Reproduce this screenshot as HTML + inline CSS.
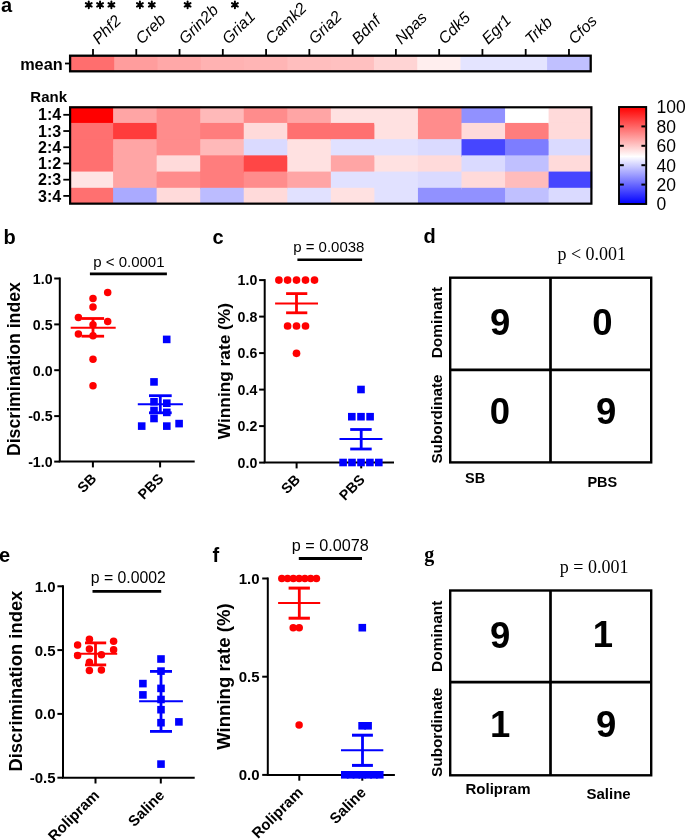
<!DOCTYPE html>
<html><head><meta charset="utf-8"><style>
html,body{margin:0;padding:0;background:#fff;width:685px;height:840px;overflow:hidden}
svg{display:block;will-change:transform}
text{font-family:"Liberation Sans", sans-serif;fill:#000}
text.serif{font-family:"Liberation Serif", serif}
</style></head><body>
<svg width="685" height="840" viewBox="0 0 685 840">
<rect x="70.90" y="55.7" width="44.79" height="15.60" fill="rgb(255,110,110)"/>
<rect x="114.19" y="55.7" width="44.79" height="15.60" fill="rgb(255,157,157)"/>
<rect x="157.48" y="55.7" width="44.79" height="15.60" fill="rgb(255,168,168)"/>
<rect x="200.77" y="55.7" width="44.79" height="15.60" fill="rgb(255,178,178)"/>
<rect x="244.06" y="55.7" width="44.79" height="15.60" fill="rgb(255,181,181)"/>
<rect x="287.35" y="55.7" width="44.79" height="15.60" fill="rgb(255,190,190)"/>
<rect x="330.64" y="55.7" width="44.79" height="15.60" fill="rgb(255,192,192)"/>
<rect x="373.93" y="55.7" width="44.79" height="15.60" fill="rgb(255,212,212)"/>
<rect x="417.22" y="55.7" width="44.79" height="15.60" fill="rgb(255,238,238)"/>
<rect x="460.51" y="55.7" width="44.79" height="15.60" fill="rgb(228,228,255)"/>
<rect x="503.80" y="55.7" width="44.79" height="15.60" fill="rgb(228,228,255)"/>
<rect x="547.09" y="55.7" width="43.29" height="15.60" fill="rgb(192,192,255)"/>
<rect x="70.1" y="55.7" width="520.60" height="15.60" fill="none" stroke="#000" stroke-width="2.3"/>
<line x1="93.00" y1="49" x2="93.00" y2="55" stroke="#000" stroke-width="1.8"/>
<line x1="136.27" y1="49" x2="136.27" y2="55" stroke="#000" stroke-width="1.8"/>
<line x1="179.54" y1="49" x2="179.54" y2="55" stroke="#000" stroke-width="1.8"/>
<line x1="222.81" y1="49" x2="222.81" y2="55" stroke="#000" stroke-width="1.8"/>
<line x1="266.08" y1="49" x2="266.08" y2="55" stroke="#000" stroke-width="1.8"/>
<line x1="309.35" y1="49" x2="309.35" y2="55" stroke="#000" stroke-width="1.8"/>
<line x1="352.62" y1="49" x2="352.62" y2="55" stroke="#000" stroke-width="1.8"/>
<line x1="395.89" y1="49" x2="395.89" y2="55" stroke="#000" stroke-width="1.8"/>
<line x1="439.16" y1="49" x2="439.16" y2="55" stroke="#000" stroke-width="1.8"/>
<line x1="482.43" y1="49" x2="482.43" y2="55" stroke="#000" stroke-width="1.8"/>
<line x1="525.70" y1="49" x2="525.70" y2="55" stroke="#000" stroke-width="1.8"/>
<line x1="568.97" y1="49" x2="568.97" y2="55" stroke="#000" stroke-width="1.8"/>
<line x1="65" y1="63.5" x2="70" y2="63.5" stroke="#000" stroke-width="1.8"/>
<rect x="69.55" y="106.70" width="45.05" height="17.72" fill="rgb(255,0,0)"/>
<rect x="69.55" y="122.92" width="45.05" height="17.72" fill="rgb(255,112,112)"/>
<rect x="69.55" y="139.14" width="45.05" height="17.72" fill="rgb(255,112,112)"/>
<rect x="69.55" y="155.36" width="45.05" height="17.72" fill="rgb(255,112,112)"/>
<rect x="69.55" y="171.58" width="45.05" height="17.72" fill="rgb(255,228,228)"/>
<rect x="69.55" y="187.80" width="45.05" height="16.22" fill="rgb(255,112,112)"/>
<rect x="113.10" y="106.70" width="45.05" height="17.72" fill="rgb(255,165,165)"/>
<rect x="113.10" y="122.92" width="45.05" height="17.72" fill="rgb(255,60,60)"/>
<rect x="113.10" y="139.14" width="45.05" height="17.72" fill="rgb(255,165,165)"/>
<rect x="113.10" y="155.36" width="45.05" height="17.72" fill="rgb(255,165,165)"/>
<rect x="113.10" y="171.58" width="45.05" height="17.72" fill="rgb(255,165,165)"/>
<rect x="113.10" y="187.80" width="45.05" height="16.22" fill="rgb(170,170,255)"/>
<rect x="156.65" y="106.70" width="45.05" height="17.72" fill="rgb(255,140,140)"/>
<rect x="156.65" y="122.92" width="45.05" height="17.72" fill="rgb(255,140,140)"/>
<rect x="156.65" y="139.14" width="45.05" height="17.72" fill="rgb(255,140,140)"/>
<rect x="156.65" y="155.36" width="45.05" height="17.72" fill="rgb(255,218,218)"/>
<rect x="156.65" y="171.58" width="45.05" height="17.72" fill="rgb(255,140,140)"/>
<rect x="156.65" y="187.80" width="45.05" height="16.22" fill="rgb(255,218,218)"/>
<rect x="200.20" y="106.70" width="45.05" height="17.72" fill="rgb(255,185,185)"/>
<rect x="200.20" y="122.92" width="45.05" height="17.72" fill="rgb(255,125,125)"/>
<rect x="200.20" y="139.14" width="45.05" height="17.72" fill="rgb(255,185,185)"/>
<rect x="200.20" y="155.36" width="45.05" height="17.72" fill="rgb(255,125,125)"/>
<rect x="200.20" y="171.58" width="45.05" height="17.72" fill="rgb(255,125,125)"/>
<rect x="200.20" y="187.80" width="45.05" height="16.22" fill="rgb(188,188,255)"/>
<rect x="243.75" y="106.70" width="45.05" height="17.72" fill="rgb(255,140,140)"/>
<rect x="243.75" y="122.92" width="45.05" height="17.72" fill="rgb(255,218,218)"/>
<rect x="243.75" y="139.14" width="45.05" height="17.72" fill="rgb(218,218,255)"/>
<rect x="243.75" y="155.36" width="45.05" height="17.72" fill="rgb(255,70,70)"/>
<rect x="243.75" y="171.58" width="45.05" height="17.72" fill="rgb(255,140,140)"/>
<rect x="243.75" y="187.80" width="45.05" height="16.22" fill="rgb(255,218,218)"/>
<rect x="287.30" y="106.70" width="45.05" height="17.72" fill="rgb(255,165,165)"/>
<rect x="287.30" y="122.92" width="45.05" height="17.72" fill="rgb(255,112,112)"/>
<rect x="287.30" y="139.14" width="45.05" height="17.72" fill="rgb(255,225,225)"/>
<rect x="287.30" y="155.36" width="45.05" height="17.72" fill="rgb(255,225,225)"/>
<rect x="287.30" y="171.58" width="45.05" height="17.72" fill="rgb(255,165,165)"/>
<rect x="287.30" y="187.80" width="45.05" height="16.22" fill="rgb(225,225,255)"/>
<rect x="330.85" y="106.70" width="45.05" height="17.72" fill="rgb(255,225,225)"/>
<rect x="330.85" y="122.92" width="45.05" height="17.72" fill="rgb(255,112,112)"/>
<rect x="330.85" y="139.14" width="45.05" height="17.72" fill="rgb(225,225,255)"/>
<rect x="330.85" y="155.36" width="45.05" height="17.72" fill="rgb(255,165,165)"/>
<rect x="330.85" y="171.58" width="45.05" height="17.72" fill="rgb(225,225,255)"/>
<rect x="330.85" y="187.80" width="45.05" height="16.22" fill="rgb(255,225,225)"/>
<rect x="374.40" y="106.70" width="45.05" height="17.72" fill="rgb(255,225,225)"/>
<rect x="374.40" y="122.92" width="45.05" height="17.72" fill="rgb(255,225,225)"/>
<rect x="374.40" y="139.14" width="45.05" height="17.72" fill="rgb(225,225,255)"/>
<rect x="374.40" y="155.36" width="45.05" height="17.72" fill="rgb(255,225,225)"/>
<rect x="374.40" y="171.58" width="45.05" height="17.72" fill="rgb(225,225,255)"/>
<rect x="374.40" y="187.80" width="45.05" height="16.22" fill="rgb(225,225,255)"/>
<rect x="417.95" y="106.70" width="45.05" height="17.72" fill="rgb(255,140,140)"/>
<rect x="417.95" y="122.92" width="45.05" height="17.72" fill="rgb(255,140,140)"/>
<rect x="417.95" y="139.14" width="45.05" height="17.72" fill="rgb(218,218,255)"/>
<rect x="417.95" y="155.36" width="45.05" height="17.72" fill="rgb(255,218,218)"/>
<rect x="417.95" y="171.58" width="45.05" height="17.72" fill="rgb(218,218,255)"/>
<rect x="417.95" y="187.80" width="45.05" height="16.22" fill="rgb(145,145,255)"/>
<rect x="461.50" y="106.70" width="45.05" height="17.72" fill="rgb(145,145,255)"/>
<rect x="461.50" y="122.92" width="45.05" height="17.72" fill="rgb(255,218,218)"/>
<rect x="461.50" y="139.14" width="45.05" height="17.72" fill="rgb(70,70,255)"/>
<rect x="461.50" y="155.36" width="45.05" height="17.72" fill="rgb(218,218,255)"/>
<rect x="461.50" y="171.58" width="45.05" height="17.72" fill="rgb(255,218,218)"/>
<rect x="461.50" y="187.80" width="45.05" height="16.22" fill="rgb(145,145,255)"/>
<rect x="505.05" y="106.70" width="45.05" height="17.72" fill="rgb(255,255,255)"/>
<rect x="505.05" y="122.92" width="45.05" height="17.72" fill="rgb(255,125,125)"/>
<rect x="505.05" y="139.14" width="45.05" height="17.72" fill="rgb(125,125,255)"/>
<rect x="505.05" y="155.36" width="45.05" height="17.72" fill="rgb(192,192,255)"/>
<rect x="505.05" y="171.58" width="45.05" height="17.72" fill="rgb(255,188,188)"/>
<rect x="505.05" y="187.80" width="45.05" height="16.22" fill="rgb(192,192,255)"/>
<rect x="548.60" y="106.70" width="43.55" height="17.72" fill="rgb(255,218,218)"/>
<rect x="548.60" y="122.92" width="43.55" height="17.72" fill="rgb(255,218,218)"/>
<rect x="548.60" y="139.14" width="43.55" height="17.72" fill="rgb(218,218,255)"/>
<rect x="548.60" y="155.36" width="43.55" height="17.72" fill="rgb(255,218,218)"/>
<rect x="548.60" y="171.58" width="43.55" height="17.72" fill="rgb(70,70,255)"/>
<rect x="548.60" y="187.80" width="43.55" height="16.22" fill="rgb(218,218,255)"/>
<rect x="70.1" y="107.3" width="521.30" height="96.35" fill="none" stroke="#000" stroke-width="2.2"/>
<line x1="63.3" y1="114.81" x2="70" y2="114.81" stroke="#000" stroke-width="1.8"/>
<text x="61.2" y="120.41" text-anchor="end" font-weight="bold" font-size="16">1:4</text>
<line x1="63.3" y1="131.03" x2="70" y2="131.03" stroke="#000" stroke-width="1.8"/>
<text x="61.2" y="136.63" text-anchor="end" font-weight="bold" font-size="16">1:3</text>
<line x1="63.3" y1="147.25" x2="70" y2="147.25" stroke="#000" stroke-width="1.8"/>
<text x="61.2" y="152.85" text-anchor="end" font-weight="bold" font-size="16">2:4</text>
<line x1="63.3" y1="163.47" x2="70" y2="163.47" stroke="#000" stroke-width="1.8"/>
<text x="61.2" y="169.07" text-anchor="end" font-weight="bold" font-size="16">1:2</text>
<line x1="63.3" y1="179.69" x2="70" y2="179.69" stroke="#000" stroke-width="1.8"/>
<text x="61.2" y="185.29" text-anchor="end" font-weight="bold" font-size="16">2:3</text>
<line x1="63.3" y1="195.91" x2="70" y2="195.91" stroke="#000" stroke-width="1.8"/>
<text x="61.2" y="201.51" text-anchor="end" font-weight="bold" font-size="16">3:4</text>
<text x="62.7" y="69.5" text-anchor="end" font-weight="bold" font-size="16.3">mean</text>
<text x="67" y="102.4" text-anchor="end" font-weight="bold" font-size="15">Rank</text>
<text x="1" y="12" font-weight="bold" font-size="20">a</text>
<text transform="translate(98.70,45.0) rotate(-45)" font-style="italic" font-size="16">Phf2</text>
<text transform="translate(141.97,45.0) rotate(-45)" font-style="italic" font-size="16">Creb</text>
<text transform="translate(185.24,45.0) rotate(-45)" font-style="italic" font-size="16">Grin2b</text>
<text transform="translate(228.51,45.0) rotate(-45)" font-style="italic" font-size="16">Gria1</text>
<text transform="translate(271.78,45.0) rotate(-45)" font-style="italic" font-size="16">Camk2</text>
<text transform="translate(315.05,45.0) rotate(-45)" font-style="italic" font-size="16">Gria2</text>
<text transform="translate(358.32,45.0) rotate(-45)" font-style="italic" font-size="16">Bdnf</text>
<text transform="translate(401.59,45.0) rotate(-45)" font-style="italic" font-size="16">Npas</text>
<text transform="translate(444.86,45.0) rotate(-45)" font-style="italic" font-size="16">Cdk5</text>
<text transform="translate(488.13,45.0) rotate(-45)" font-style="italic" font-size="16">Egr1</text>
<text transform="translate(531.40,45.0) rotate(-45)" font-style="italic" font-size="16">Trkb</text>
<text transform="translate(574.67,45.0) rotate(-45)" font-style="italic" font-size="16">Cfos</text>
<path d="M88.75,1.45L88.75,8.25M85.81,3.15L91.69,6.55M91.69,3.15L85.81,6.55" stroke="#000" stroke-width="2.0" stroke-linecap="round"/>
<path d="M100.05,1.45L100.05,8.25M97.11,3.15L102.99,6.55M102.99,3.15L97.11,6.55" stroke="#000" stroke-width="2.0" stroke-linecap="round"/>
<path d="M111.40,1.45L111.40,8.25M108.46,3.15L114.34,6.55M114.34,3.15L108.46,6.55" stroke="#000" stroke-width="2.0" stroke-linecap="round"/>
<path d="M139.90,1.45L139.90,8.25M136.96,3.15L142.84,6.55M142.84,3.15L136.96,6.55" stroke="#000" stroke-width="2.0" stroke-linecap="round"/>
<path d="M151.80,1.45L151.80,8.25M148.86,3.15L154.74,6.55M154.74,3.15L148.86,6.55" stroke="#000" stroke-width="2.0" stroke-linecap="round"/>
<path d="M187.60,1.45L187.60,8.25M184.66,3.15L190.54,6.55M190.54,3.15L184.66,6.55" stroke="#000" stroke-width="2.0" stroke-linecap="round"/>
<path d="M234.90,1.45L234.90,8.25M231.96,3.15L237.84,6.55M237.84,3.15L231.96,6.55" stroke="#000" stroke-width="2.0" stroke-linecap="round"/>
<defs><linearGradient id="cb" x1="0" y1="1" x2="0" y2="0"><stop offset="0" stop-color="#0000ff"/><stop offset="0.49" stop-color="#ffffff"/><stop offset="1" stop-color="#ff0000"/></linearGradient></defs>
<rect x="619" y="107" width="27.2" height="97" fill="url(#cb)" stroke="#000" stroke-width="1.9"/>
<line x1="620" y1="126.40" x2="623.8" y2="126.40" stroke="#000" stroke-width="2"/>
<line x1="641.4" y1="126.40" x2="645.4" y2="126.40" stroke="#000" stroke-width="2"/>
<line x1="620" y1="145.80" x2="623.8" y2="145.80" stroke="#000" stroke-width="2"/>
<line x1="641.4" y1="145.80" x2="645.4" y2="145.80" stroke="#000" stroke-width="2"/>
<line x1="620" y1="165.20" x2="623.8" y2="165.20" stroke="#000" stroke-width="2"/>
<line x1="641.4" y1="165.20" x2="645.4" y2="165.20" stroke="#000" stroke-width="2"/>
<line x1="620" y1="184.60" x2="623.8" y2="184.60" stroke="#000" stroke-width="2"/>
<line x1="641.4" y1="184.60" x2="645.4" y2="184.60" stroke="#000" stroke-width="2"/>
<text x="656.5" y="113.30" font-size="17.5">100</text>
<text x="656.5" y="132.70" font-size="17.5">80</text>
<text x="656.5" y="152.10" font-size="17.5">60</text>
<text x="656.5" y="171.50" font-size="17.5">40</text>
<text x="656.5" y="190.90" font-size="17.5">20</text>
<text x="656.5" y="210.30" font-size="17.5">0</text>
<text x="3.5" y="244" font-weight="bold" font-size="20">b</text>
<line x1="59.8" y1="277.5" x2="59.8" y2="461.6" stroke="#000" stroke-width="2"/>
<line x1="58.8" y1="461.6" x2="194.7" y2="461.6" stroke="#000" stroke-width="2"/>
<line x1="54.199999999999996" y1="278.5" x2="59.8" y2="278.5" stroke="#000" stroke-width="2"/>
<text x="52.599999999999994" y="283.80" text-anchor="end" font-weight="bold" font-size="14.2">1.0</text>
<line x1="54.199999999999996" y1="324.4" x2="59.8" y2="324.4" stroke="#000" stroke-width="2"/>
<text x="52.599999999999994" y="329.70" text-anchor="end" font-weight="bold" font-size="14.2">0.5</text>
<line x1="54.199999999999996" y1="370.2" x2="59.8" y2="370.2" stroke="#000" stroke-width="2"/>
<text x="52.599999999999994" y="375.50" text-anchor="end" font-weight="bold" font-size="14.2">0.0</text>
<line x1="54.199999999999996" y1="416.1" x2="59.8" y2="416.1" stroke="#000" stroke-width="2"/>
<text x="52.599999999999994" y="421.40" text-anchor="end" font-weight="bold" font-size="14.2">-0.5</text>
<line x1="54.199999999999996" y1="461.6" x2="59.8" y2="461.6" stroke="#000" stroke-width="2"/>
<text x="52.599999999999994" y="466.90" text-anchor="end" font-weight="bold" font-size="14.2">-1.0</text>
<line x1="92.9" y1="461.6" x2="92.9" y2="467.40000000000003" stroke="#000" stroke-width="2"/>
<text transform="translate(97.30000000000001,479.6) rotate(-45)" text-anchor="end" font-weight="bold" font-size="14.2">SB</text>
<line x1="160.1" y1="461.6" x2="160.1" y2="467.40000000000003" stroke="#000" stroke-width="2"/>
<text transform="translate(164.5,479.6) rotate(-45)" text-anchor="end" font-weight="bold" font-size="14.2">PBS</text>
<text transform="translate(19.9,369.1) rotate(-90)" text-anchor="middle" font-weight="bold" font-size="17.7">Discrimination index</text>
<line x1="89.9" y1="273.9" x2="166.9" y2="273.9" stroke="#000" stroke-width="2.6"/>
<text x="128.9" y="266.9" text-anchor="middle" font-size="15">p &lt; 0.0001</text>
<circle cx="107.7" cy="292.6" r="3.75" fill="#ff0000"/>
<circle cx="93.0" cy="298.4" r="3.75" fill="#ff0000"/>
<circle cx="93.0" cy="307.1" r="3.75" fill="#ff0000"/>
<circle cx="78.4" cy="317.5" r="3.75" fill="#ff0000"/>
<circle cx="107.7" cy="321.4" r="3.75" fill="#ff0000"/>
<circle cx="93.0" cy="324.7" r="3.75" fill="#ff0000"/>
<circle cx="78.4" cy="334" r="3.75" fill="#ff0000"/>
<circle cx="93.0" cy="335.7" r="3.75" fill="#ff0000"/>
<circle cx="93.0" cy="359.2" r="3.75" fill="#ff0000"/>
<circle cx="93.0" cy="385.8" r="3.75" fill="#ff0000"/>
<line x1="70.7" y1="327.7" x2="115.7" y2="327.7" stroke="#ff0000" stroke-width="2"/>
<line x1="81.5" y1="318.5" x2="104.1" y2="318.5" stroke="#ff0000" stroke-width="2.8"/>
<line x1="81.5" y1="336.2" x2="104.1" y2="336.2" stroke="#ff0000" stroke-width="2.8"/>
<line x1="93.0" y1="318.5" x2="93.0" y2="336.2" stroke="#ff0000" stroke-width="2.8"/>
<rect x="162.90" y="335.60" width="7.6" height="7.6" fill="#0000ff"/>
<rect x="150.20" y="378.10" width="7.6" height="7.6" fill="#0000ff"/>
<rect x="150.20" y="398.00" width="7.6" height="7.6" fill="#0000ff"/>
<rect x="163.00" y="399.40" width="7.6" height="7.6" fill="#0000ff"/>
<rect x="150.20" y="406.70" width="7.6" height="7.6" fill="#0000ff"/>
<rect x="163.00" y="408.60" width="7.6" height="7.6" fill="#0000ff"/>
<rect x="150.20" y="414.70" width="7.6" height="7.6" fill="#0000ff"/>
<rect x="137.90" y="422.30" width="7.6" height="7.6" fill="#0000ff"/>
<rect x="163.00" y="422.30" width="7.6" height="7.6" fill="#0000ff"/>
<rect x="175.30" y="419.80" width="7.6" height="7.6" fill="#0000ff"/>
<line x1="137.8" y1="404.2" x2="182.9" y2="404.2" stroke="#0000ff" stroke-width="2"/>
<line x1="149" y1="395.7" x2="171.7" y2="395.7" stroke="#0000ff" stroke-width="2.8"/>
<line x1="149" y1="412.8" x2="171.7" y2="412.8" stroke="#0000ff" stroke-width="2.8"/>
<line x1="160.3" y1="395.7" x2="160.3" y2="412.8" stroke="#0000ff" stroke-width="2.8"/>
<text x="212.5" y="243.7" font-weight="bold" font-size="20">c</text>
<line x1="264.7" y1="279.1" x2="264.7" y2="462.6" stroke="#000" stroke-width="2"/>
<line x1="263.7" y1="462.6" x2="394" y2="462.6" stroke="#000" stroke-width="2"/>
<line x1="259.09999999999997" y1="280.1" x2="264.7" y2="280.1" stroke="#000" stroke-width="2"/>
<text x="257.3" y="285.40" text-anchor="end" font-weight="bold" font-size="14.2">1.0</text>
<line x1="259.09999999999997" y1="316.6" x2="264.7" y2="316.6" stroke="#000" stroke-width="2"/>
<text x="257.3" y="321.90" text-anchor="end" font-weight="bold" font-size="14.2">0.8</text>
<line x1="259.09999999999997" y1="353.1" x2="264.7" y2="353.1" stroke="#000" stroke-width="2"/>
<text x="257.3" y="358.40" text-anchor="end" font-weight="bold" font-size="14.2">0.6</text>
<line x1="259.09999999999997" y1="389.6" x2="264.7" y2="389.6" stroke="#000" stroke-width="2"/>
<text x="257.3" y="394.90" text-anchor="end" font-weight="bold" font-size="14.2">0.4</text>
<line x1="259.09999999999997" y1="426.1" x2="264.7" y2="426.1" stroke="#000" stroke-width="2"/>
<text x="257.3" y="431.40" text-anchor="end" font-weight="bold" font-size="14.2">0.2</text>
<line x1="259.09999999999997" y1="462.6" x2="264.7" y2="462.6" stroke="#000" stroke-width="2"/>
<text x="257.3" y="467.90" text-anchor="end" font-weight="bold" font-size="14.2">0.0</text>
<line x1="296.6" y1="462.6" x2="296.6" y2="468.40000000000003" stroke="#000" stroke-width="2"/>
<text transform="translate(301.0,480.6) rotate(-45)" text-anchor="end" font-weight="bold" font-size="14.2">SB</text>
<line x1="361.2" y1="462.6" x2="361.2" y2="468.40000000000003" stroke="#000" stroke-width="2"/>
<text transform="translate(365.59999999999997,480.6) rotate(-45)" text-anchor="end" font-weight="bold" font-size="14.2">PBS</text>
<text transform="translate(229.7,371.1) rotate(-90)" text-anchor="middle" font-weight="bold" font-size="17.3">Winning rate (%)</text>
<line x1="297.4" y1="259.7" x2="362.1" y2="259.7" stroke="#000" stroke-width="2.6"/>
<text x="328.8" y="252.4" text-anchor="middle" font-size="15">p = 0.0038</text>
<circle cx="278.9" cy="280.1" r="3.85" fill="#ff0000"/>
<circle cx="287.6" cy="280.1" r="3.85" fill="#ff0000"/>
<circle cx="296.5" cy="280.1" r="3.85" fill="#ff0000"/>
<circle cx="305.5" cy="280.1" r="3.85" fill="#ff0000"/>
<circle cx="314.5" cy="280.1" r="3.85" fill="#ff0000"/>
<circle cx="287.6" cy="326" r="3.85" fill="#ff0000"/>
<circle cx="296.5" cy="326" r="3.85" fill="#ff0000"/>
<circle cx="305.5" cy="326" r="3.85" fill="#ff0000"/>
<circle cx="296.5" cy="353.3" r="3.85" fill="#ff0000"/>
<line x1="275.1" y1="303.5" x2="318" y2="303.5" stroke="#ff0000" stroke-width="2"/>
<line x1="286.1" y1="293.6" x2="307.3" y2="293.6" stroke="#ff0000" stroke-width="2.8"/>
<line x1="286.1" y1="312.8" x2="307.3" y2="312.8" stroke="#ff0000" stroke-width="2.8"/>
<line x1="296.5" y1="293.6" x2="296.5" y2="312.8" stroke="#ff0000" stroke-width="2.8"/>
<rect x="357.20" y="385.70" width="7.6" height="7.6" fill="#0000ff"/>
<rect x="348.00" y="412.90" width="7.6" height="7.6" fill="#0000ff"/>
<rect x="357.20" y="412.90" width="7.6" height="7.6" fill="#0000ff"/>
<rect x="366.30" y="412.90" width="7.6" height="7.6" fill="#0000ff"/>
<rect x="339.30" y="458.70" width="7.6" height="7.6" fill="#0000ff"/>
<rect x="348.20" y="458.70" width="7.6" height="7.6" fill="#0000ff"/>
<rect x="357.20" y="458.70" width="7.6" height="7.6" fill="#0000ff"/>
<rect x="366.10" y="458.70" width="7.6" height="7.6" fill="#0000ff"/>
<rect x="375.00" y="458.70" width="7.6" height="7.6" fill="#0000ff"/>
<line x1="339.5" y1="439" x2="382.4" y2="439" stroke="#0000ff" stroke-width="2"/>
<line x1="350.2" y1="429.5" x2="371.7" y2="429.5" stroke="#0000ff" stroke-width="2.8"/>
<line x1="350.2" y1="449" x2="371.7" y2="449" stroke="#0000ff" stroke-width="2.8"/>
<line x1="361.2" y1="429.5" x2="361.2" y2="449" stroke="#0000ff" stroke-width="2.8"/>
<text x="-1" y="561.9" font-weight="bold" font-size="20">e</text>
<line x1="63.0" y1="585.3" x2="63.0" y2="777.7" stroke="#000" stroke-width="2"/>
<line x1="62.0" y1="777.7" x2="194.7" y2="777.7" stroke="#000" stroke-width="2"/>
<line x1="57.4" y1="586.3" x2="63.0" y2="586.3" stroke="#000" stroke-width="2"/>
<text x="55.6" y="591.87" text-anchor="end" font-weight="bold" font-size="15">1.0</text>
<line x1="57.4" y1="650.1" x2="63.0" y2="650.1" stroke="#000" stroke-width="2"/>
<text x="55.6" y="655.67" text-anchor="end" font-weight="bold" font-size="15">0.5</text>
<line x1="57.4" y1="713.9" x2="63.0" y2="713.9" stroke="#000" stroke-width="2"/>
<text x="55.6" y="719.47" text-anchor="end" font-weight="bold" font-size="15">0.0</text>
<line x1="57.4" y1="777.7" x2="63.0" y2="777.7" stroke="#000" stroke-width="2"/>
<text x="55.6" y="783.27" text-anchor="end" font-weight="bold" font-size="15">-0.5</text>
<line x1="95.5" y1="777.7" x2="95.5" y2="783.5" stroke="#000" stroke-width="2"/>
<text transform="translate(100.1,796.2) rotate(-45)" text-anchor="end" font-weight="bold" font-size="15">Rolipram</text>
<line x1="160.8" y1="777.7" x2="160.8" y2="783.5" stroke="#000" stroke-width="2"/>
<text transform="translate(165.4,796.2) rotate(-45)" text-anchor="end" font-weight="bold" font-size="15">Saline</text>
<text transform="translate(21.6,681.1) rotate(-90)" text-anchor="middle" font-weight="bold" font-size="18.4">Discrimination index</text>
<line x1="92.5" y1="591.3" x2="161.2" y2="591.3" stroke="#000" stroke-width="2.8"/>
<text x="128.3" y="582.6" text-anchor="middle" font-size="15.8">p = 0.0002</text>
<circle cx="89.4" cy="639.3" r="3.75" fill="#ff0000"/>
<circle cx="113.6" cy="641.3" r="3.75" fill="#ff0000"/>
<circle cx="77.6" cy="644.9" r="3.75" fill="#ff0000"/>
<circle cx="89.4" cy="649" r="3.75" fill="#ff0000"/>
<circle cx="113.6" cy="649.7" r="3.75" fill="#ff0000"/>
<circle cx="77.6" cy="655.5" r="3.75" fill="#ff0000"/>
<circle cx="101.4" cy="654.8" r="3.75" fill="#ff0000"/>
<circle cx="89.4" cy="662.3" r="3.75" fill="#ff0000"/>
<circle cx="89.4" cy="670.5" r="3.75" fill="#ff0000"/>
<circle cx="101.4" cy="670" r="3.75" fill="#ff0000"/>
<line x1="74.3" y1="653.8" x2="117.2" y2="653.8" stroke="#ff0000" stroke-width="2"/>
<line x1="85" y1="642.9" x2="106.2" y2="642.9" stroke="#ff0000" stroke-width="2.8"/>
<line x1="85" y1="664.9" x2="106.2" y2="664.9" stroke="#ff0000" stroke-width="2.8"/>
<line x1="95.5" y1="642.9" x2="95.5" y2="664.9" stroke="#ff0000" stroke-width="2.8"/>
<rect x="157.20" y="655.20" width="7.6" height="7.6" fill="#0000ff"/>
<rect x="157.20" y="667.30" width="7.6" height="7.6" fill="#0000ff"/>
<rect x="139.10" y="679.80" width="7.6" height="7.6" fill="#0000ff"/>
<rect x="157.20" y="684.60" width="7.6" height="7.6" fill="#0000ff"/>
<rect x="139.10" y="691.10" width="7.6" height="7.6" fill="#0000ff"/>
<rect x="157.20" y="695.70" width="7.6" height="7.6" fill="#0000ff"/>
<rect x="157.20" y="705.90" width="7.6" height="7.6" fill="#0000ff"/>
<rect x="157.20" y="718.90" width="7.6" height="7.6" fill="#0000ff"/>
<rect x="175.10" y="718.10" width="7.6" height="7.6" fill="#0000ff"/>
<rect x="157.20" y="760.30" width="7.6" height="7.6" fill="#0000ff"/>
<line x1="139.1" y1="701.2" x2="182.9" y2="701.2" stroke="#0000ff" stroke-width="2"/>
<line x1="150" y1="671.4" x2="172" y2="671.4" stroke="#0000ff" stroke-width="2.8"/>
<line x1="150" y1="731.4" x2="172" y2="731.4" stroke="#0000ff" stroke-width="2.8"/>
<line x1="161" y1="671.4" x2="161" y2="731.4" stroke="#0000ff" stroke-width="2.8"/>
<text x="212.5" y="561.9" font-weight="bold" font-size="20">f</text>
<line x1="267.8" y1="577.5" x2="267.8" y2="774.9" stroke="#000" stroke-width="2"/>
<line x1="266.8" y1="774.9" x2="394.9" y2="774.9" stroke="#000" stroke-width="2"/>
<line x1="262.2" y1="578.5" x2="267.8" y2="578.5" stroke="#000" stroke-width="2"/>
<text x="259.6" y="584.07" text-anchor="end" font-weight="bold" font-size="15">1.0</text>
<line x1="262.2" y1="676.7" x2="267.8" y2="676.7" stroke="#000" stroke-width="2"/>
<text x="259.6" y="682.27" text-anchor="end" font-weight="bold" font-size="15">0.5</text>
<line x1="262.2" y1="774.9" x2="267.8" y2="774.9" stroke="#000" stroke-width="2"/>
<text x="259.6" y="780.47" text-anchor="end" font-weight="bold" font-size="15">0.0</text>
<line x1="299.3" y1="774.9" x2="299.3" y2="780.6999999999999" stroke="#000" stroke-width="2"/>
<text transform="translate(303.90000000000003,793.4) rotate(-45)" text-anchor="end" font-weight="bold" font-size="15">Rolipram</text>
<line x1="362.3" y1="774.9" x2="362.3" y2="780.6999999999999" stroke="#000" stroke-width="2"/>
<text transform="translate(366.90000000000003,793.4) rotate(-45)" text-anchor="end" font-weight="bold" font-size="15">Saline</text>
<text transform="translate(229.9,676.6) rotate(-90)" text-anchor="middle" font-weight="bold" font-size="18.6">Winning rate (%)</text>
<line x1="298.8" y1="558.6" x2="362" y2="558.6" stroke="#000" stroke-width="3"/>
<text x="330.3" y="551" text-anchor="middle" font-size="16.2">p = 0.0078</text>
<circle cx="281.8" cy="578.5" r="3.75" fill="#ff0000"/>
<circle cx="287.57" cy="578.5" r="3.75" fill="#ff0000"/>
<circle cx="293.34000000000003" cy="578.5" r="3.75" fill="#ff0000"/>
<circle cx="299.11" cy="578.5" r="3.75" fill="#ff0000"/>
<circle cx="304.88" cy="578.5" r="3.75" fill="#ff0000"/>
<circle cx="310.65000000000003" cy="578.5" r="3.75" fill="#ff0000"/>
<circle cx="316.42" cy="578.5" r="3.75" fill="#ff0000"/>
<circle cx="293.2" cy="627.8" r="3.75" fill="#ff0000"/>
<circle cx="299.2" cy="627.8" r="3.75" fill="#ff0000"/>
<circle cx="299.1" cy="725.1" r="3.75" fill="#ff0000"/>
<line x1="278.1" y1="603.1" x2="320.2" y2="603.1" stroke="#ff0000" stroke-width="2"/>
<line x1="288.6" y1="588.1" x2="309.9" y2="588.1" stroke="#ff0000" stroke-width="3"/>
<line x1="288.6" y1="618.2" x2="309.9" y2="618.2" stroke="#ff0000" stroke-width="3"/>
<line x1="299.3" y1="588.1" x2="299.3" y2="618.2" stroke="#ff0000" stroke-width="2.8"/>
<rect x="358.50" y="623.90" width="7.6" height="7.6" fill="#0000ff"/>
<rect x="358.30" y="722.00" width="7.6" height="7.6" fill="#0000ff"/>
<rect x="364.30" y="722.00" width="7.6" height="7.6" fill="#0000ff"/>
<rect x="341.00" y="771.00" width="7.6" height="7.6" fill="#0000ff"/>
<rect x="346.83" y="771.00" width="7.6" height="7.6" fill="#0000ff"/>
<rect x="352.66" y="771.00" width="7.6" height="7.6" fill="#0000ff"/>
<rect x="358.49" y="771.00" width="7.6" height="7.6" fill="#0000ff"/>
<rect x="364.32" y="771.00" width="7.6" height="7.6" fill="#0000ff"/>
<rect x="370.15" y="771.00" width="7.6" height="7.6" fill="#0000ff"/>
<rect x="375.98" y="771.00" width="7.6" height="7.6" fill="#0000ff"/>
<line x1="341" y1="750.2" x2="383.3" y2="750.2" stroke="#0000ff" stroke-width="2"/>
<line x1="352" y1="735.2" x2="372.9" y2="735.2" stroke="#0000ff" stroke-width="3"/>
<line x1="352" y1="765.4" x2="372.9" y2="765.4" stroke="#0000ff" stroke-width="3"/>
<line x1="362.5" y1="735.2" x2="362.5" y2="765.4" stroke="#0000ff" stroke-width="2.8"/>
<rect x="450.2" y="277.7" width="201.00000000000006" height="184.7" fill="none" stroke="#000" stroke-width="2.4"/>
<line x1="550.5" y1="277.7" x2="550.5" y2="462.4" stroke="#000" stroke-width="2.7"/>
<line x1="450.2" y1="369.9" x2="651.2" y2="369.9" stroke="#000" stroke-width="2.7"/>
<text x="500.2" y="335.2" text-anchor="middle" font-weight="bold" font-size="36.5">9</text>
<text x="602.4" y="335.2" text-anchor="middle" font-weight="bold" font-size="36.5">0</text>
<text x="499.8" y="424" text-anchor="middle" font-weight="bold" font-size="36.5">0</text>
<text x="606.1" y="424" text-anchor="middle" font-weight="bold" font-size="36.5">9</text>
<text x="591.8" y="259.7" text-anchor="middle" class="serif" font-size="18">p &lt; 0.001</text>
<text x="475.2" y="483.4" text-anchor="middle" font-weight="bold" font-size="14.5">SB</text>
<text x="602.3" y="487.3" text-anchor="middle" font-weight="bold" font-size="14.5">PBS</text>
<text transform="translate(442,322.6) rotate(-90)" text-anchor="middle" font-weight="bold" font-size="15.5">Dominant</text>
<text transform="translate(442,419) rotate(-90)" text-anchor="middle" font-weight="bold" font-size="15.3">Subordinate</text>
<text x="423.5" y="243.2" font-weight="bold" font-size="20">d</text>
<rect x="450.2" y="590.5" width="201.00000000000006" height="184.79999999999995" fill="none" stroke="#000" stroke-width="2.4"/>
<line x1="550.5" y1="590.5" x2="550.5" y2="775.3" stroke="#000" stroke-width="2.7"/>
<line x1="450.2" y1="682.2" x2="651.2" y2="682.2" stroke="#000" stroke-width="2.7"/>
<text x="500.2" y="647.6" text-anchor="middle" font-weight="bold" font-size="36.5">9</text>
<text x="602.8" y="647.1" text-anchor="middle" font-weight="bold" font-size="36.5">1</text>
<text x="500.2" y="737" text-anchor="middle" font-weight="bold" font-size="36.5">1</text>
<text x="606.1" y="737" text-anchor="middle" font-weight="bold" font-size="36.5">9</text>
<text x="594.1" y="572.9" text-anchor="middle" class="serif" font-size="18">p = 0.001</text>
<text x="498" y="794.3" text-anchor="middle" font-weight="bold" font-size="15">Rolipram</text>
<text x="608.6" y="798.7" text-anchor="middle" font-weight="bold" font-size="15">Saline</text>
<text transform="translate(442,636.3) rotate(-90)" text-anchor="middle" font-weight="bold" font-size="15.5">Dominant</text>
<text transform="translate(442,732.3) rotate(-90)" text-anchor="middle" font-weight="bold" font-size="15.3">Subordinate</text>
<text x="424.2" y="561.3" class="serif" font-weight="bold" font-size="20">g</text>
</svg>
</body></html>
